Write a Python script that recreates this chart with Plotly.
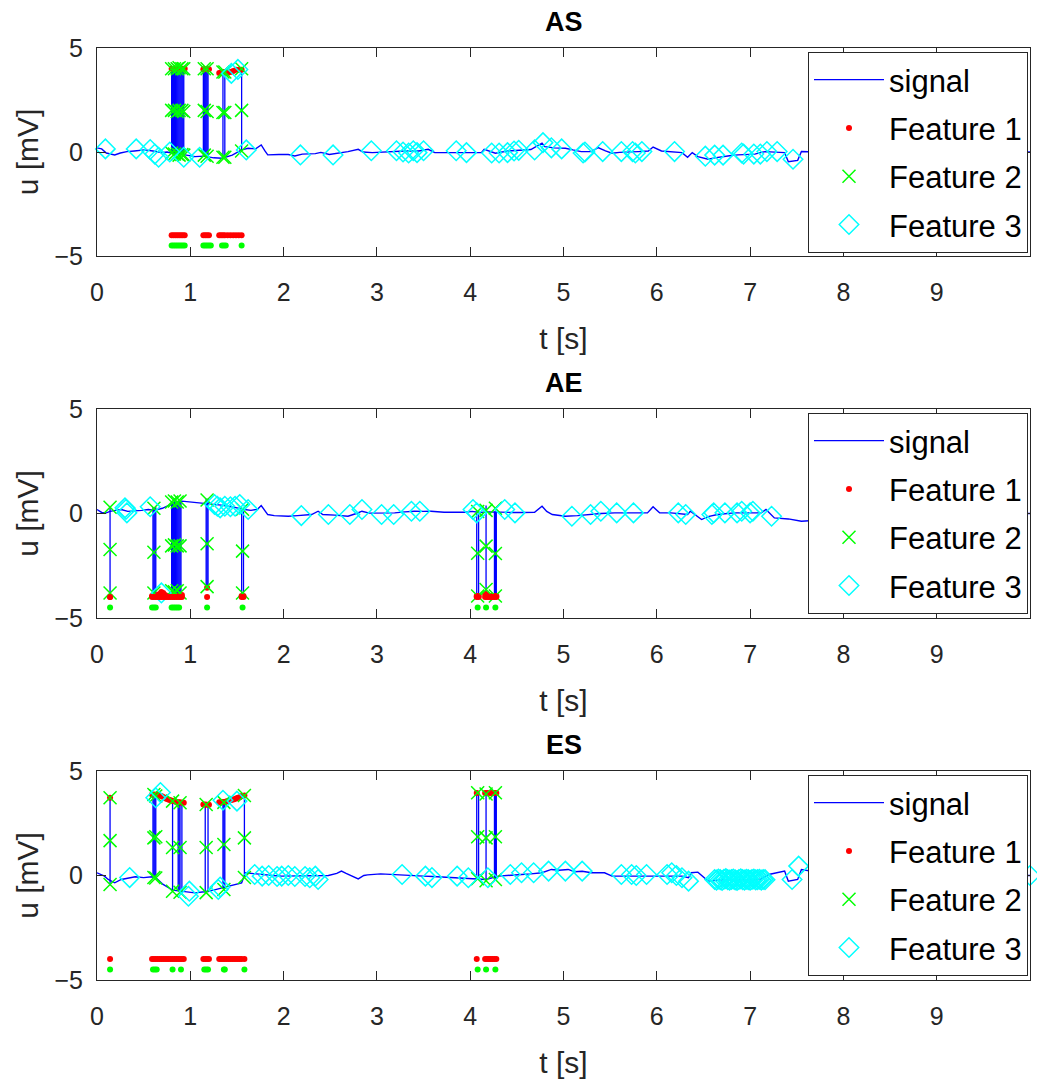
import plotly.graph_objects as go

# ---------------- data ----------------
ROW_F1 = -4.0   # level of Feature-1 indicator row
ROW_F2 = -4.5   # level of Feature-2 indicator row

# ---- AS ----
AS_base_t = [0.00,0.05,0.10,0.19,0.25,0.32,0.40,0.51,0.60,0.69,0.75,0.80,0.90,0.96,1.05,1.15,1.25,1.34,1.45,1.55,
             1.62,1.70,1.76,1.80,1.83,1.95,2.05,2.12,2.20,2.34,2.40,2.49,2.60,2.69,2.80,2.85,2.95,3.05,3.19,3.30,
             3.45,3.55,3.62,3.75,3.91,4.05,4.12,4.15,4.27,4.40,4.55,4.65,4.77,4.80,4.90,5.02,5.10,5.19,5.30,5.37,
             5.45,5.52,5.60,5.70,5.80,5.91,5.96,6.05,6.15,6.27,6.33,6.38,6.44,6.55,6.62,6.69,6.78,6.87,6.95,7.05,
             7.16,7.25,7.37,7.41,7.51,7.55,7.70,8.00,8.50,9.00,9.50,10.00]
AS_base_u = [0.20,0.15,-0.05,-0.14,-0.05,0.02,0.05,0.10,0.05,-0.03,0.00,-0.05,-0.10,-0.15,-0.22,-0.20,-0.28,-0.30,-0.15,0.10,
             0.18,0.15,0.34,0.05,-0.14,-0.12,-0.12,-0.19,-0.10,-0.08,-0.02,-0.12,-0.05,0.02,0.13,0.00,-0.03,0.00,0.02,0.05,
             0.05,0.13,-0.03,-0.03,-0.03,-0.03,-0.03,0.13,-0.06,0.05,0.10,0.12,0.42,0.26,0.20,0.18,0.10,0.02,0.02,0.21,
             0.05,-0.06,-0.02,-0.01,0.02,0.05,0.24,0.05,0.02,-0.03,-0.25,-0.03,-0.22,-0.35,-0.28,-0.22,-0.18,-0.14,-0.12,-0.10,
             0.02,0.00,-0.03,-0.47,-0.40,0.02,0.00,-0.10,0.00,0.05,-0.05,0.00]
AS_spike_t = [0.80,0.81,0.82,0.83,0.84,0.85,0.86,0.87,0.88,0.89,0.90,0.91,0.92,0.93,
              1.14,1.15,1.16,1.17,1.18,1.19,1.35,1.37,1.55]
AS_spike_lo = [-0.05,-0.06,-0.08,-0.09,-0.10,-0.10,-0.10,-0.10,-0.10,-0.10,-0.11,-0.12,-0.13,-0.15,
               -0.20,-0.20,-0.20,-0.20,-0.20,-0.20,-0.30,-0.28,0.10]
AS_spike_hi = [4.00,4.00,4.00,4.00,4.00,4.00,4.00,4.00,4.00,4.00,4.00,4.00,4.00,4.00,
               3.98,3.98,3.98,3.98,3.98,3.98,3.85,3.85,3.95]
AS_f1_t = [0.80,0.82,0.84,0.86,0.88,0.90,0.92,0.94,1.14,1.16,1.18,1.20,1.31,1.33,1.35,1.37,1.40,1.43,1.46,1.49,1.52,1.55]
AS_f1_u = [4.00,4.00,4.00,4.00,4.00,4.00,4.00,4.00,3.98,3.98,3.98,3.98,3.80,3.82,3.85,3.85,3.80,3.85,3.90,3.95,3.95,3.95]
AS_f2_t = [0.80,0.80,0.80,0.83,0.83,0.83,0.86,0.86,0.86,0.88,0.88,0.88,0.91,0.91,0.91,0.93,0.93,0.93,
           1.15,1.15,1.15,1.18,1.18,1.18,1.35,1.35,1.35,1.37,1.37,1.37,1.55,1.55,1.55]
AS_f2_u = [4.00,2.00,-0.05,4.00,2.00,-0.10,4.00,1.95,-0.10,4.05,2.00,-0.15,4.00,2.00,-0.12,4.00,1.95,-0.15,
           4.00,2.00,-0.15,4.00,1.95,-0.20,3.85,1.90,-0.25,3.85,1.90,-0.25,4.00,2.00,0.05]
AS_row2_t = [0.80,0.82,0.84,0.86,0.88,0.90,0.92,0.94,1.14,1.16,1.18,1.20,1.22,1.34,1.36,1.38,1.55]
AS_f3_t = [0.09,0.42,0.57,0.62,0.66,0.78,0.93,1.10,1.44,1.51,1.60,2.18,2.53,2.94,3.21,3.28,3.34,3.39,3.43,3.50,
           3.85,3.96,4.23,4.31,4.40,4.47,4.52,4.69,4.78,4.87,4.98,5.21,5.23,5.42,5.62,5.74,5.77,5.84,6.19,6.52,
           6.62,6.71,6.91,6.93,7.04,7.11,7.18,7.29,7.46]
AS_f3_u = [0.15,0.15,0.12,-0.10,-0.25,0.00,-0.25,-0.25,3.78,3.97,0.10,-0.14,-0.14,0.06,0.06,0.00,-0.05,0.06,-0.03,0.06,
           0.06,-0.03,-0.05,-0.05,-0.03,0.05,0.08,0.10,0.45,0.20,0.15,-0.05,0.00,0.02,0.02,0.02,-0.05,0.02,0.02,-0.20,
           -0.15,-0.15,-0.05,-0.10,-0.10,-0.10,0.02,0.02,-0.35]

# ---- AE ----
AE_base_t = [0.00,0.05,0.10,0.14,0.20,0.26,0.33,0.41,0.48,0.55,0.62,0.70,0.78,0.85,0.91,1.00,1.05,1.16,1.25,1.33,
             1.41,1.50,1.58,1.65,1.72,1.76,1.80,1.83,1.90,1.97,2.05,2.15,2.25,2.30,2.37,2.42,2.55,2.69,2.78,2.84,
             2.92,3.05,3.19,3.30,3.40,3.50,3.58,3.72,3.84,3.95,4.02,4.10,4.20,4.30,4.37,4.45,4.55,4.69,4.77,4.82,
             4.88,5.02,5.15,5.26,5.40,5.55,5.70,5.90,5.96,6.03,6.15,6.25,6.33,6.36,6.42,6.48,6.55,6.65,6.83,7.00,
             7.12,7.17,7.26,7.41,7.55,7.80,8.20,8.80,9.40,10.00]
AE_base_u = [0.19,0.05,0.03,0.10,0.15,0.19,0.10,0.11,0.15,0.19,0.15,0.25,0.40,0.55,0.59,0.55,0.54,0.50,0.45,0.40,
             0.35,0.25,0.19,0.15,0.20,0.38,0.10,-0.05,-0.10,-0.13,-0.13,-0.10,-0.08,-0.05,0.11,-0.05,-0.08,-0.13,0.00,0.11,
             0.02,0.02,0.03,0.08,0.11,0.10,0.11,0.06,0.06,0.06,0.10,0.05,0.08,0.06,0.03,0.05,0.05,0.06,0.35,0.10,
             -0.05,-0.13,-0.10,-0.05,0.00,0.03,0.03,0.03,0.32,0.03,0.03,0.00,-0.05,0.11,-0.10,-0.29,-0.15,-0.05,0.03,0.03,
             0.03,0.19,-0.21,-0.26,-0.37,-0.30,-0.20,-0.10,0.00,0.00]
AE_spike_t = [0.14,0.60,0.61,0.62,0.63,0.80,0.81,0.82,0.83,0.84,0.85,0.86,0.87,0.88,0.89,0.90,
              1.17,1.18,1.19,1.55,1.57,4.07,4.09,4.17,4.26,4.27,4.28]
AE_spike_lo = [-3.85,-3.85,-3.85,-3.85,-3.85,-3.80,-3.80,-3.80,-3.80,-3.80,-3.80,-3.80,-3.80,-3.80,-3.80,-3.80,
               -3.50,-3.50,-3.50,-3.85,-3.85,-3.95,-3.95,-3.90,-3.95,-3.95,-3.95]
AE_spike_hi = [0.35,0.30,0.30,0.30,0.30,0.55,0.55,0.55,0.55,0.55,0.56,0.57,0.57,0.57,0.57,0.57,
               0.70,0.70,0.70,0.20,0.20,0.10,0.10,0.38,0.10,0.10,0.10]
AE_f1_t = [0.14,0.59,0.61,0.63,0.65,0.67,0.69,0.71,0.73,0.75,0.77,0.79,0.81,0.83,0.85,0.87,0.89,0.91,1.18,1.55,
           1.57,4.07,4.09,4.16,4.18,4.20,4.22,4.24,4.26,4.28]
AE_f1_u = [-4.00,-3.95,-3.95,-3.95,-3.90,-3.85,-3.75,-3.80,-3.90,-3.95,-3.95,-3.95,-3.90,-3.90,-3.95,-3.95,-3.90,-3.90,-3.55,-3.95,
           -3.95,-3.95,-3.95,-3.85,-3.90,-3.95,-3.95,-3.95,-3.95,-3.95]
AE_f2_t = [0.14,0.14,0.14,0.61,0.61,0.61,0.80,0.80,0.80,0.83,0.83,0.83,0.86,0.86,0.86,0.89,0.89,0.89,
           1.18,1.18,1.18,1.56,1.56,1.56,4.08,4.08,4.08,4.17,4.17,4.17,4.27,4.27,4.27]
AE_f2_u = [0.30,-1.72,-3.80,0.25,-1.85,-3.80,0.55,-1.55,-3.70,0.60,-1.50,-3.75,0.55,-1.55,-3.70,0.60,-1.55,-3.80,
           0.65,-1.45,-3.50,0.20,-1.80,-3.80,0.10,-1.90,-3.95,0.15,-1.56,-3.64,0.25,-1.91,-3.95]
AE_row2_t = [0.14,0.59,0.61,0.63,0.80,0.82,0.84,0.86,0.88,1.18,1.56,4.08,4.17,4.27]
AE_f3_t = [0.30,0.31,0.32,0.57,0.69,1.26,1.29,1.32,1.37,1.43,1.48,1.53,1.62,2.19,2.48,2.71,2.84,3.05,3.18,3.37,
           3.46,4.03,4.07,4.37,4.48,5.09,5.29,5.40,5.57,5.75,6.23,6.31,6.59,6.61,6.73,6.86,6.91,7.00,7.03,7.23]
AE_f3_u = [0.27,0.19,0.03,0.32,-3.80,0.43,0.35,0.27,0.35,0.32,0.35,0.43,0.19,-0.10,-0.05,-0.05,0.19,-0.05,-0.05,0.11,
           0.11,0.19,0.03,0.19,0.03,-0.13,-0.05,0.11,0.03,0.03,0.03,-0.05,-0.05,0.03,0.03,0.03,0.11,0.03,0.11,-0.13]

# ---- ES ----
ES_base_t = [0.00,0.05,0.08,0.12,0.19,0.26,0.33,0.41,0.50,0.59,0.63,0.70,0.81,0.91,0.98,1.05,1.15,1.25,1.34,1.45,
             1.55,1.59,1.68,1.76,1.88,1.98,2.10,2.20,2.34,2.48,2.57,2.62,2.67,2.72,2.80,2.86,2.90,3.04,3.15,3.25,
             3.37,3.50,3.60,3.72,3.84,3.95,4.05,4.17,4.30,4.42,4.55,4.65,4.77,4.87,4.95,5.05,5.12,5.20,5.30,5.44,
             5.52,5.65,5.80,5.98,6.10,6.27,6.34,6.37,6.44,6.50,6.55,6.70,6.90,7.10,7.20,7.30,7.37,7.41,7.51,7.55,
             7.80,8.30,8.90,9.50,10.00]
ES_base_u = [0.13,0.05,-0.03,-0.19,-0.35,-0.19,-0.12,-0.06,-0.10,-0.06,-0.10,-0.40,-0.70,-0.75,-0.80,-0.83,-0.78,-0.70,-0.59,-0.45,
             -0.35,0.13,0.08,0.05,0.00,-0.03,-0.03,-0.03,-0.03,0.00,0.10,0.21,0.10,0.00,-0.16,0.00,0.03,0.08,0.05,0.03,
             -0.03,-0.03,-0.05,-0.08,-0.11,-0.15,-0.19,-0.19,-0.03,0.02,0.05,0.08,0.13,0.29,0.25,0.29,0.18,0.20,0.13,0.13,
             -0.03,-0.03,-0.03,-0.03,-0.03,-0.03,-0.11,0.13,0.16,-0.05,-0.27,-0.20,-0.19,-0.19,0.05,0.16,0.21,-0.27,-0.19,0.29,
             0.10,0.00,0.05,0.00,0.00]
ES_spike_t = [0.14,0.60,0.61,0.62,0.63,0.81,0.87,0.88,0.89,0.91,1.16,1.19,1.35,1.36,1.37,1.58,
              4.07,4.09,4.17,4.26,4.27,4.28]
ES_spike_lo = [-0.40,-0.10,-0.10,-0.10,-0.10,-0.72,-0.75,-0.76,-0.78,-0.78,-0.82,-0.80,-0.65,-0.64,-0.62,-0.10,
               -0.20,-0.20,-0.30,-0.20,-0.20,-0.20]
ES_spike_hi = [3.72,3.90,3.90,3.90,3.90,3.56,3.48,3.48,3.48,3.48,3.40,3.40,3.50,3.50,3.50,3.83,
               3.95,3.95,3.90,3.95,3.95,3.95]
ES_f1_t = [0.14,0.59,0.61,0.63,0.65,0.67,0.69,0.71,0.73,0.75,0.77,0.79,0.81,0.83,0.85,0.87,0.89,0.91,0.93,1.14,
           1.16,1.18,1.20,1.31,1.33,1.35,1.37,1.39,1.41,1.43,1.45,1.47,1.49,1.51,1.53,1.55,1.58,4.07,4.16,4.18,
           4.20,4.22,4.24,4.26,4.28]
ES_f1_u = [3.72,3.88,3.88,3.86,3.84,3.82,3.80,3.76,3.70,3.66,3.62,3.60,3.56,3.55,3.52,3.50,3.50,3.48,3.48,3.40,
           3.40,3.38,3.38,3.50,3.50,3.52,3.52,3.55,3.57,3.60,3.62,3.65,3.68,3.72,3.75,3.80,3.83,3.95,3.95,3.95,
           3.95,3.95,3.95,3.95,3.95]
ES_f2_t = [0.14,0.14,0.14,0.61,0.61,0.61,0.63,0.63,0.63,0.81,0.81,0.81,0.89,0.89,0.89,1.17,1.17,1.17,
           1.36,1.36,1.36,1.58,1.58,1.58,4.08,4.08,4.08,4.17,4.17,4.17,4.27,4.27,4.27]
ES_f2_u = [3.72,1.67,-0.43,3.88,1.80,-0.10,3.80,1.85,-0.12,3.56,1.34,-0.75,3.48,1.34,-0.80,3.40,1.34,-0.82,
           3.50,1.48,-0.67,3.83,1.80,-0.10,3.96,1.85,-0.15,3.90,1.80,-0.25,3.96,1.85,-0.19]
ES_row2_t = [0.14,0.60,0.62,0.64,0.81,0.90,1.15,1.17,1.19,1.36,1.37,1.58,4.08,4.17,4.27]
ES_f3_t = [0.35,0.63,0.68,0.98,0.99,1.30,1.32,1.35,1.50,1.69,1.77,1.84,1.93,1.98,2.05,2.12,2.23,2.28,2.34,2.37,
           3.27,3.52,3.59,3.86,3.98,4.19,4.43,4.55,4.68,4.84,5.02,5.20,5.62,5.73,5.78,5.89,6.11,6.16,6.21,6.27,
           6.34,6.62,6.64,6.66,6.68,6.70,6.72,6.74,6.76,6.78,6.80,6.82,6.84,6.86,6.88,6.90,6.92,6.94,6.96,6.98,
           7.00,7.02,7.04,7.06,7.08,7.10,7.12,7.14,7.16,7.45,7.52,10.00]
ES_f3_u = [-0.10,3.72,3.97,-0.99,-0.75,-0.67,-0.55,3.60,3.56,0.05,-0.03,0.00,-0.05,-0.03,0.00,-0.05,-0.05,-0.11,-0.03,-0.19,
           0.05,-0.03,-0.10,-0.03,-0.11,-0.11,0.05,0.13,0.13,0.21,0.21,0.21,0.05,0.05,0.00,0.05,0.05,0.13,0.00,-0.11,
           -0.27,-0.19,-0.22,-0.17,-0.20,-0.24,-0.18,-0.15,-0.20,-0.22,-0.19,-0.17,-0.21,-0.24,-0.19,-0.16,-0.20,-0.22,-0.18,-0.20,
           -0.23,-0.19,-0.17,-0.21,-0.20,-0.18,-0.22,-0.19,-0.20,-0.19,0.45,0.00]

TITLES = ["AS", "AE", "ES"]
X_TICKS = [0, 1, 2, 3, 4, 5, 6, 7, 8, 9]
Y_TICKS = [-5, 0, 5]
X_RANGE = [0, 10]
Y_RANGE = [-5, 5]

PANELS = [
    (AS_base_t, AS_base_u, AS_spike_t, AS_spike_lo, AS_spike_hi, AS_f1_t, AS_f1_u, AS_f2_t, AS_f2_u, AS_row2_t, AS_f3_t, AS_f3_u),
    (AE_base_t, AE_base_u, AE_spike_t, AE_spike_lo, AE_spike_hi, AE_f1_t, AE_f1_u, AE_f2_t, AE_f2_u, AE_row2_t, AE_f3_t, AE_f3_u),
    (ES_base_t, ES_base_u, ES_spike_t, ES_spike_lo, ES_spike_hi, ES_f1_t, ES_f1_u, ES_f2_t, ES_f2_u, ES_row2_t, ES_f3_t, ES_f3_u),
]
for p in PANELS:
    assert len(p[0]) == len(p[1]) and len(p[2]) == len(p[3]) == len(p[4])
    assert len(p[5]) == len(p[6]) and len(p[7]) == len(p[8]) and len(p[10]) == len(p[11])

# ---------------- styling / layout ----------------
W, H = 1037, 1084
FONT = "Liberation Sans, Arial, Helvetica, sans-serif"
AX_COL = "#262626"
BLUE, RED, GREEN, CYAN = "rgb(0,0,255)", "rgb(255,0,0)", "rgb(0,255,0)", "rgb(0,255,255)"
X_L, X_R = 97, 1030
TOPS = [48, 409, 771]
BOTS = [256, 618, 980]
ML, MR, MT, MB = X_L, W - X_R, TOPS[0], H - BOTS[-1]
PW, PH = W - ML - MR, H - MT - MB


def fx(px):
    return (px - ML) / PW


def fy(py):
    return (BOTS[-1] - py) / PH


fig = go.Figure()
layout = dict(width=W, height=H, margin=dict(l=ML, r=MR, t=MT, b=MB, autoexpand=False),
              paper_bgcolor="white", plot_bgcolor="white",
              font=dict(family=FONT, color=AX_COL), annotations=[])

for i, (bt, bu, st, slo, shi, f1t, f1u, f2t, f2u, r2t, f3t, f3u) in enumerate(PANELS):
    sfx = "" if i == 0 else str(i + 1)
    xa, ya = "x" + sfx, "y" + sfx
    leg = "legend" + sfx
    common = dict(xaxis=xa, yaxis=ya, legend=leg)

    fig.add_trace(go.Scatter(x=bt, y=bu, mode="lines", name="signal",
                             line=dict(color=BLUE, width=1.4), legendgroup=f"g{i}a", **common))
    sx, sy = [], []
    for t, lo, hi in zip(st, slo, shi):
        sx += [t, t, None]
        sy += [lo, hi, None]
    fig.add_trace(go.Scatter(x=sx, y=sy, mode="lines", showlegend=False, legendgroup=f"g{i}a",
                             line=dict(color=BLUE, width=1.3), **common))
    fig.add_trace(go.Scatter(x=f1t, y=f1u, mode="markers", name="Feature 1", legendgroup=f"g{i}b",
                             marker=dict(symbol="circle", size=6, color=RED), cliponaxis=False, **common))
    fig.add_trace(go.Scatter(x=f2t, y=f2u, mode="markers", name="Feature 2", legendgroup=f"g{i}c",
                             marker=dict(symbol="x-thin-open", size=13, color=GREEN, line=dict(color=GREEN, width=1.5)),
                             cliponaxis=False, **common))
    fig.add_trace(go.Scatter(x=f3t, y=f3u, mode="markers", name="Feature 3", legendgroup=f"g{i}d",
                             marker=dict(symbol="diamond-open", size=15, color=CYAN, line=dict(color=CYAN, width=1.5)),
                             cliponaxis=False, **common))
    fig.add_trace(go.Scatter(x=f1t, y=[ROW_F1] * len(f1t), mode="markers", showlegend=False, legendgroup=f"g{i}b",
                             marker=dict(symbol="circle", size=6, color=RED), **common))
    fig.add_trace(go.Scatter(x=r2t, y=[ROW_F2] * len(r2t), mode="markers", showlegend=False, legendgroup=f"g{i}c",
                             marker=dict(symbol="circle", size=6, color=GREEN), **common))

    top, bot = TOPS[i], BOTS[i]
    axis_common = dict(showline=True, linecolor=AX_COL, linewidth=1, mirror="ticks", ticks="inside",
                       ticklen=9, tickcolor=AX_COL, tickwidth=1, showgrid=False, zeroline=False,
                       automargin=False, tickfont=dict(family=FONT, size=25, color=AX_COL))
    layout["xaxis" + sfx] = dict(domain=[0, 1], anchor=ya, range=X_RANGE, tickvals=X_TICKS,
                                 ticklabelstandoff=14,
                                 title=dict(text="t [s]", font=dict(family=FONT, size=30, color=AX_COL), standoff=22),
                                 **axis_common)
    layout["yaxis" + sfx] = dict(domain=[fy(bot), fy(top)], anchor=xa, range=Y_RANGE, tickvals=Y_TICKS,
                                 ticklabelstandoff=8,
                                 title=dict(text="u [mV]", font=dict(family=FONT, size=30, color=AX_COL), standoff=6),
                                 **axis_common)
    layout[leg] = dict(x=fx(1028), y=fy(top + 4), xanchor="right", yanchor="top",
                       bgcolor="white", bordercolor=AX_COL, borderwidth=1,
                       font=dict(family=FONT, size=31, color="black"),
                       itemwidth=70, tracegroupgap=5, traceorder="grouped")
    layout["annotations"].append(dict(text="<b>" + TITLES[i] + "</b>", xref="paper", yref="paper",
                                      x=0.5, y=fy(top - 26), xanchor="center",
                                      yanchor="middle", showarrow=False,
                                      font=dict(family=FONT, size=27, color="black")))

fig.update_layout(**layout)
fig.write_html("out.html", config={"displayModeBar": False},
               post_script="document.body.style.margin='0px';document.body.style.overflow='hidden';")
